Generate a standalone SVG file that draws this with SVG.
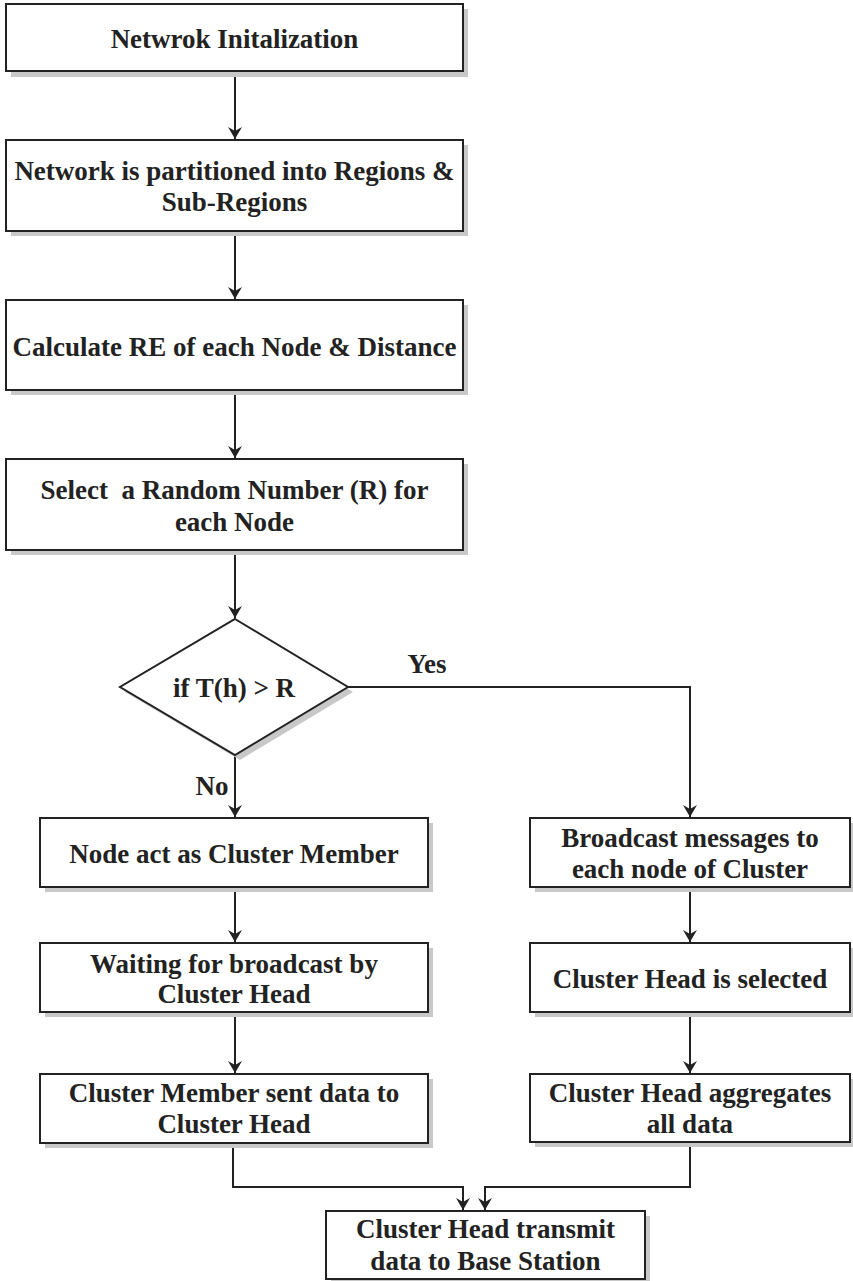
<svg xmlns="http://www.w3.org/2000/svg" width="853" height="1281" viewBox="0 0 853 1281">
<defs>
<style>
.box{fill:#fff;stroke:#222;stroke-width:2}
.sh{fill:#c8c8c8;stroke:none}
.t{font-family:"Liberation Serif","Times New Roman",serif;font-weight:bold;font-size:27px;fill:#222;text-anchor:middle}
.c{fill:none;stroke:#222;stroke-width:2}
</style>
<marker id="ah" markerWidth="12" markerHeight="14" refX="12" refY="7" orient="auto" markerUnits="userSpaceOnUse">
<path d="M0,0 L12,7 L0,14 L4,7 z" fill="#222"/>
</marker>
</defs>
<rect width="853" height="1281" fill="#fff"/>
<g id="connectors">
<path class="c" d="M235,71 V139" marker-end="url(#ah)"/>
<path class="c" d="M235,231 V299" marker-end="url(#ah)"/>
<path class="c" d="M235,390 V458" marker-end="url(#ah)"/>
<path class="c" d="M235,550 V618" marker-end="url(#ah)"/>
<path class="c" d="M348,687 H690 V817" marker-end="url(#ah)"/>
<path class="c" d="M235,755 V817" marker-end="url(#ah)"/>
<path class="c" d="M235,887 V942" marker-end="url(#ah)"/>
<path class="c" d="M235,1012 V1073" marker-end="url(#ah)"/>
<path class="c" d="M690,887 V942" marker-end="url(#ah)"/>
<path class="c" d="M690,1012 V1073" marker-end="url(#ah)"/>
<path class="c" d="M233,1143 V1187 H463 V1210" marker-end="url(#ah)"/>
<path class="c" d="M690,1142 V1187 H485 V1210" marker-end="url(#ah)"/>
<text class="t" x="427" y="673">Yes</text>
<text class="t" x="212" y="795">No</text>
</g>
<g id="n1"><rect class="sh" x="11" y="9" width="457" height="68"/><rect class="box" x="6" y="4" width="457" height="67"/><text class="t" x="234.5" y="48">Netwrok Initalization</text></g>
<g id="n2"><rect class="sh" x="11" y="145" width="457" height="91"/><rect class="box" x="6" y="140" width="457" height="91"/><text class="t" x="234.5" y="180">Network is partitioned into Regions &amp;</text><text class="t" x="234.5" y="211">Sub-Regions</text></g>
<g id="n3"><rect class="sh" x="11" y="305" width="457" height="90"/><rect class="box" x="6" y="300" width="457" height="90"/><text class="t" x="234.5" y="356">Calculate RE of each Node &amp; Distance</text></g>
<g id="n4"><rect class="sh" x="11" y="464" width="457" height="91"/><rect class="box" x="6" y="459" width="457" height="91"/><text class="t" x="234.5" y="499" xml:space="preserve">Select  a Random Number (R) for</text><text class="t" x="234.5" y="531">each Node</text></g>
<g id="d1"><path class="sh" d="M240,624 L353,692 L240,760 L125,692 z"/><path class="box" d="M235,619 L348,687 L235,755 L120,687 z"/><text class="t" x="234" y="697">if T(h) &gt; R</text></g>
<g id="l1"><rect class="sh" x="45" y="823" width="388" height="69"/><rect class="box" x="40" y="818" width="388" height="69"/><text class="t" x="234" y="863">Node act as Cluster Member</text></g>
<g id="l2"><rect class="sh" x="45" y="948" width="388" height="69"/><rect class="box" x="40" y="943" width="388" height="69"/><text class="t" x="234" y="973">Waiting for broadcast by</text><text class="t" x="234" y="1003">Cluster Head</text></g>
<g id="l3"><rect class="sh" x="45" y="1079" width="388" height="69"/><rect class="box" x="40" y="1074" width="388" height="69"/><text class="t" x="234" y="1102">Cluster Member sent data to</text><text class="t" x="234" y="1133">Cluster Head</text></g>
<g id="r1"><rect class="sh" x="535" y="823" width="320" height="69"/><rect class="box" x="530" y="818" width="320" height="69"/><text class="t" x="690" y="847">Broadcast messages to</text><text class="t" x="690" y="878">each node of Cluster</text></g>
<g id="r2"><rect class="sh" x="535" y="948" width="320" height="69"/><rect class="box" x="530" y="943" width="320" height="69"/><text class="t" x="690" y="988">Cluster Head is selected</text></g>
<g id="r3"><rect class="sh" x="535" y="1079" width="320" height="68"/><rect class="box" x="530" y="1074" width="320" height="68"/><text class="t" x="690" y="1102">Cluster Head aggregates</text><text class="t" x="690" y="1133">all data</text></g>
<g id="b1"><rect class="sh" x="331" y="1216" width="319" height="68"/><rect class="box" x="326" y="1211" width="319" height="68"/><text class="t" x="485.5" y="1238">Cluster Head transmit</text><text class="t" x="485.5" y="1270">data to Base Station</text></g>
</svg>
